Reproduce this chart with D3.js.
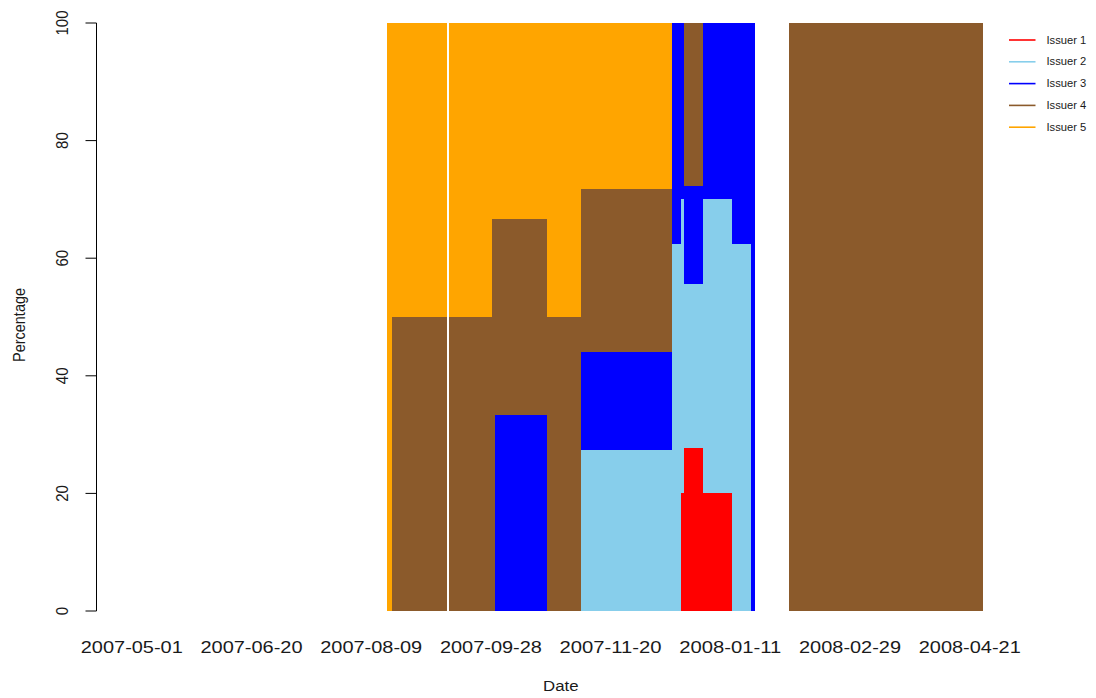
<!DOCTYPE html>
<html>
<head>
<meta charset="utf-8">
<script src="https://cdn.jsdelivr.net/npm/d3@7"></script>
<style>
  html, body { margin: 0; padding: 0; background: #fff; }
  svg { display: block; font-family: "Liberation Sans", Arial, Helvetica, sans-serif; }
</style>
</head>
<body>
<svg id="chart" width="1096" height="698"></svg>
<script>
// Issuer names and fill colours (stacked bottom to top)
const issuers = ["Issuer 1", "Issuer 2", "Issuer 3", "Issuer 4", "Issuer 5"];
const issuerColors = ["#FF0000", "#87CEEB", "#0000FF", "#8B5A2B", "#FFA500"];

// Daily shares are stored run-length encoded: each run covers runDays consecutive
// trading days that share the same percentage split between issuers.
const runDays = [107, 2, 23, 1, 18, 1, 22, 14, 38, 4, 1, 8, 12, 8, 2, 14, 81];
const issuer1 = [0, 0,   0,  0,  0,    0,    0,    0,  0,    0,    20, 27.8, 20, 0,    0,   0, 0];
const issuer2 = [0, 0,   0,  0,  0,    0,    0,    0,  27.3, 62.4, 50, 27.8, 50, 62.4, 0,   0, 0];
const issuer3 = [0, 0,   0,  0,  0,    0,    33.3, 0,  16.7, 37.6, 30, 16.6, 30, 37.6, 100, 0, 0];
const issuer4 = [0, 0,   50, 0,  50,   66.7, 33.3, 50, 27.8, 0,    0,  27.8, 0,  0,    0,   0, 100];
const issuer5 = [0, 100, 50, 0,  50,   33.3, 33.4, 50, 28.2, 0,    0,  0,    0,  0,    0,   0, 0];

// Date labels shown every 50 trading days
const tickDay = [0, 50, 100, 150, 200, 250, 300, 350];
const tickLabels = ["2007-05-01", "2007-06-20", "2007-08-09", "2007-09-28",
                    "2007-11-20", "2008-01-11", "2008-02-29", "2008-04-21"];
const yTicks = [0, 20, 40, 60, 80, 100];

// Expand the runs into one row per day
const seriesRuns = [issuer1, issuer2, issuer3, issuer4, issuer5];
const rows = [];
runDays.forEach((n, r) => {
  for (let k = 0; k < n; k++) {
    const row = { day: rows.length };
    issuers.forEach((name, s) => { row[name] = seriesRuns[s][r]; });
    rows.push(row);
  }
});
const nDays = rows.length;

const svg = d3.select("#chart");
const plot = { left: 96.5, right: 1017, top: 23, bottom: 611 };
const stretch = 1.12;

// Bar positions: one unit per day, with 4% padding on either side of the bars
const x = d3.scaleLinear()
  .domain([-0.04 * nDays, 1.04 * nDays])
  .range([plot.left, plot.right]);
const y = d3.scaleLinear().domain([0, 100]).range([plot.bottom, plot.top]);

const stacked = d3.stack().keys(issuers)(rows);

svg.append("g")
  .selectAll("g")
  .data(stacked)
  .join("g")
  .attr("fill", (d, i) => issuerColors[i])
  .selectAll("rect")
  .data(d => d.filter(p => p[1] - p[0] > 0))
  .join("rect")
  .attr("shape-rendering", "crispEdges")
  .attr("x", p => x(p.data.day))
  .attr("width", p => x(p.data.day + 1) - x(p.data.day))
  .attr("y", p => y(p[1]))
  .attr("height", p => y(p[0]) - y(p[1]));

// Left axis
const yAxis = svg.append("g").attr("stroke", "#000").attr("stroke-width", 1);
yAxis.append("line")
  .attr("x1", plot.left).attr("x2", plot.left)
  .attr("y1", y(100)).attr("y2", y(0));
yAxis.selectAll("line.tick")
  .data(yTicks)
  .join("line")
  .attr("class", "tick")
  .attr("x1", plot.left - 11).attr("x2", plot.left)
  .attr("y1", d => y(d)).attr("y2", d => y(d));

svg.append("g")
  .selectAll("text")
  .data(yTicks)
  .join("text")
  .attr("transform", d => `translate(68,${y(d)}) scale(${stretch},1) rotate(-90)`)
  .attr("text-anchor", "middle")
  .attr("font-size", 15)
  .attr("fill", "#1a1a1a")
  .text(d => d);

// Date labels along the bottom
svg.append("g")
  .selectAll("text")
  .data(tickDay)
  .join("text")
  .attr("x", (d) => x(d + 0.5))
  .attr("y", 652.5)
  .attr("text-anchor", "middle")
  .attr("font-size", 16)
  .attr("textLength", 102)
  .attr("lengthAdjust", "spacingAndGlyphs")
  .attr("fill", "#1a1a1a")
  .text((d, i) => tickLabels[i]);

// Axis titles
svg.append("text")
  .attr("transform", `translate(${(plot.left + plot.right) / 2 + 4},691) scale(${stretch},1)`)
  .attr("text-anchor", "middle")
  .attr("font-size", 15)
  .attr("fill", "#1a1a1a")
  .text("Date");

svg.append("text")
  .attr("transform", `translate(25,325) scale(${stretch},1) rotate(-90)`)
  .attr("text-anchor", "middle")
  .attr("font-size", 14.5)
  .attr("fill", "#1a1a1a")
  .text("Percentage");

// Legend
const legend = svg.append("g");
const legendItems = legend.selectAll("g")
  .data(issuers)
  .join("g")
  .attr("transform", (d, i) => `translate(1009,${40 + i * 21.8})`);
legendItems.append("line")
  .attr("x1", 0).attr("x2", 26.5)
  .attr("stroke", (d, i) => issuerColors[i])
  .attr("stroke-width", 1.6);
legendItems.append("text")
  .attr("transform", `translate(37.5,3.5) scale(${stretch},1)`)
  .attr("font-size", 10)
  .attr("fill", "#1a1a1a")
  .text(d => d);
</script>
</body>
</html>
